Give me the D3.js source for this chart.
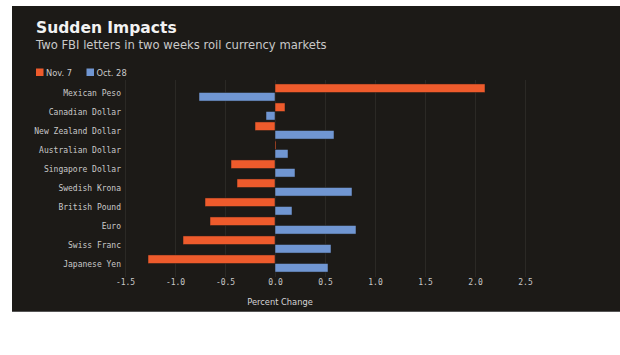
<!DOCTYPE html>
<html><head><meta charset="utf-8">
<script src="https://cdn.jsdelivr.net/npm/d3@7"></script>
<style>
html,body{margin:0;padding:0;background:#fff;}
svg{display:block;}
</style>
</head><body>
<svg id="chart" width="620" height="355"></svg>
<script>
const categories = ["Mexican Peso","Canadian Dollar","New Zealand Dollar","Australian Dollar","Singapore Dollar","Swedish Krona","British Pound","Euro","Swiss Franc","Japanese Yen"];
const nov7 = [2.10, 0.10, -0.20, 0.01, -0.44, -0.38, -0.70, -0.65, -0.92, -1.27];
const oct28 = [-0.76, -0.09, 0.59, 0.13, 0.20, 0.77, 0.17, 0.81, 0.56, 0.53];
const seriesNames = ["Nov. 7", "Oct. 28"];
const seriesColors = ["#ee5b2c", "#7096d2"];
const xTicks = [-1.5, -1.0, -0.5, 0.0, 0.5, 1.0, 1.5, 2.0, 2.5];

const svg = d3.select("#chart");
svg.append("rect").attr("x",12).attr("y",6).attr("width",608).attr("height",306).attr("fill","#1c1a17");
svg.append("line").attr("x1",12).attr("x2",620).attr("y1",311.5).attr("y2",311.5).attr("stroke","#555").attr("stroke-width",1);

const x = d3.scaleLinear().domain([-1.5, 2.5]).range([125, 525]);
const y = d3.scaleBand().domain(categories).range([83, 273]).paddingInner(0.1).paddingOuter(0.05);
const sub = d3.scaleBand().domain([0,1]).range([0, y.bandwidth()]);

// gridlines
svg.append("g").selectAll("line").data(xTicks).join("line")
  .attr("x1", d => x(d)+0.5).attr("x2", d => x(d)+0.5)
  .attr("y1", 80).attr("y2", 277)
  .attr("stroke", "#2b2925").attr("stroke-width", 1);

// title
svg.append("text").attr("x",36).attr("y",32.5).text("Sudden Impacts")
  .attr("font-family","'DejaVu Sans', sans-serif").attr("font-weight","bold").attr("font-size",15.5).attr("fill","#f2f2f2");
svg.append("text").attr("x",36).attr("y",48.5).text("Two FBI letters in two weeks roil currency markets")
  .attr("font-family","'DejaVu Sans', sans-serif").attr("font-size",11.6).attr("fill","#c9c9c9");

// legend
const legX = [36, 86.5];
seriesNames.forEach((n,i)=>{
  svg.append("rect").attr("x",legX[i]).attr("y",68.5).attr("width",7.5).attr("height",7.5).attr("fill",seriesColors[i]);
  svg.append("text").attr("x",legX[i]+10).attr("y",75.8).text(n)
    .attr("font-family","'DejaVu Sans', sans-serif").attr("font-size",8.3).attr("fill","#c9c9c9");
});

// bars
const series = [nov7, oct28];
series.forEach((vals, si) => {
  svg.append("g").selectAll("rect").data(categories).join("rect")
    .attr("x", (c,i) => x(Math.min(0, vals[i])))
    .attr("width", (c,i) => Math.max(1, Math.abs(x(vals[i]) - x(0))))
    .attr("y", c => y(c) + sub(si))
    .attr("height", sub.bandwidth())
    .attr("fill", seriesColors[si])
    .attr("stroke", "#1c1a17").attr("stroke-width", 0.5);
});

// category labels
svg.append("g").selectAll("text").data(categories).join("text")
  .attr("x", 121).attr("y", c => y(c) + y.bandwidth()/2 + 3)
  .attr("text-anchor","end")
  .attr("font-family","'DejaVu Sans Mono', monospace").attr("font-size",8)
  .attr("fill","#c9c9c9").text(c => c);

// x axis
const xAxis = d3.axisBottom(x).tickValues(xTicks).tickFormat(d3.format(".1f")).tickSize(0).tickPadding(0);
const ax = svg.append("g").attr("transform","translate(0,282)").call(xAxis);
ax.select(".domain").remove();
ax.selectAll("text").attr("font-family","'DejaVu Sans Mono', monospace").attr("font-size",8).attr("fill","#c9c9c9").attr("dy","0.4em")
  .text(d => d3.format(".1f")(d).replace("−","-"));

svg.append("text").attr("x",280).attr("y",305).attr("text-anchor","middle").text("Percent Change")
  .attr("font-family","'DejaVu Sans', sans-serif").attr("font-size",8.3).attr("fill","#d5d5d5");
</script>
</body></html>
